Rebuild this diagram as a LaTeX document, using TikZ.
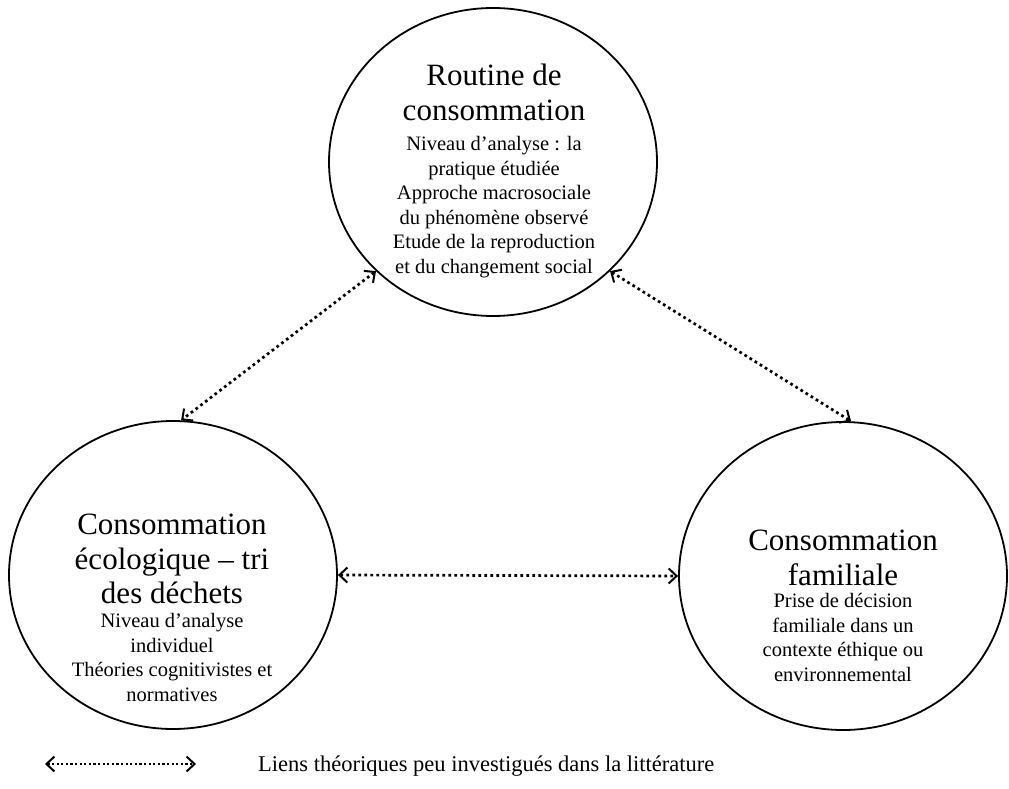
\documentclass[tikz,border=0pt]{standalone}
\usepackage{fontspec}
\setmainfont{Liberation Serif}
\usetikzlibrary{shapes.geometric,arrows.meta}
\begin{document}
\begin{tikzpicture}[x=1pt,y=-1pt,
  circ/.style={draw, ellipse, line width=1.8pt, minimum width=328pt, minimum height=308pt, inner sep=0pt},
  ttl/.style={align=center, font=\fontsize{31}{34.5}\selectfont, inner sep=0pt, anchor=north},
  bodytxt/.style={align=center, font=\fontsize{20.5}{24.6}\selectfont, inner sep=0pt, anchor=north},
  link/.style={line width=2.7pt, dash pattern=on 2.7pt off 3.3pt, {Straight Barb[length=8pt,width=15pt,line width=2pt]}-{Straight Barb[length=8pt,width=15pt,line width=2pt]}}
]
\useasboundingbox (0,0) rectangle (1009,789);
% circles
\node[circ] (top) at (493,162) {};
\node[circ] (left) at (173,575) {};
\node[circ] (right) at (843,576) {};
% texts
\node[ttl] (toptitle) at (494,64) {Routine de\\consommation};
\node[bodytxt] (topbody) at (494,136) {Niveau d’analyse : la\\pratique étudiée\\Approche macrosociale\\du phénomène observé\\Etude de la reproduction\\et du changement social};
\node[ttl] (lefttitle) at (172,514) {Consommation\\écologique – tri\\des déchets};
\node[bodytxt] (leftbody) at (172,613) {Niveau d’analyse\\individuel\\Théories cognitivistes et\\normatives};
\node[ttl] (righttitle) at (843,530) {Consommation\\familiale};
\node[bodytxt] (rightbody) at (843,593) {Prise de décision\\familiale dans un\\contexte éthique ou\\environnemental};
% links
\draw[link] (top.223) -- (left.87);
\draw[link] (top.317) -- (right.87);
\draw[link] (left.0) -- (right.180);
% legend
\coordinate (la) at (45,764);
\coordinate (lb) at (196,764);
\draw[link, line width=2.2pt, dash pattern=on 2.2pt off 2.4pt] (la) -- (lb);
\node[anchor=base west, inner sep=0pt, font=\fontsize{22.5}{27}\selectfont] (legend) at (258,771) {Liens théoriques peu investigués dans la littérature};
\end{tikzpicture}
\end{document}
